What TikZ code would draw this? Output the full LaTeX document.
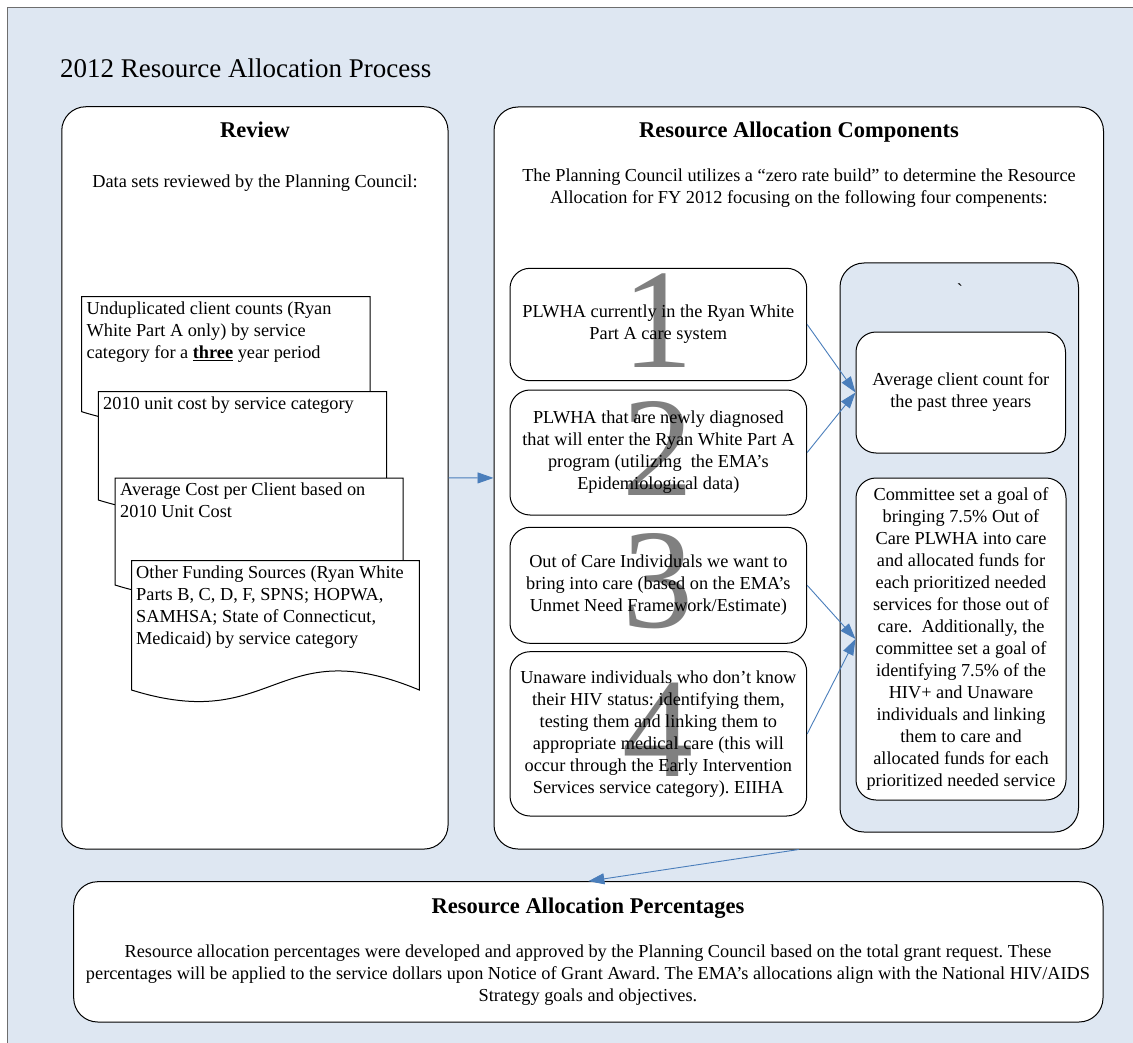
\documentclass[tikz,border=0pt]{standalone}
\usepackage{fontspec}
\setmainfont{Liberation Serif}
\usetikzlibrary{arrows.meta}
\frenchspacing

\definecolor{bgblue}{RGB}{222,231,242}
\definecolor{linkblue}{RGB}{74,126,187}
\definecolor{numgray}{RGB}{128,128,128}
\definecolor{framegray}{RGB}{110,110,110}

\newcommand{\docpage}[4]{%
	\filldraw[fill=white, draw=black, line width=1pt] (#1,#4) -- (#1,#2) -- (#3,#2) -- (#3,#4)
		.. controls ({(#1+#3)/2},#4-60) and ({(#1+#3)/2},#4+45) .. cycle;}

\begin{document}
\begin{tikzpicture}[x=1pt, y=-1pt,
	bodytext/.style={font=\fontsize{18.3}{22}\selectfont},
	headtext/.style={font=\fontsize{22.5}{26}\selectfont\bfseries},
	panel/.style={draw, line width=1pt, fill=white, rounded corners=24pt, inner sep=0pt},
	compbox/.style={panel, rounded corners=20pt, minimum width=296.7pt, bodytext, align=center},
	bignumber/.style={path picture={\node[draw=none, fill=none, inner sep=0pt, minimum width=0pt, minimum height=0pt,
		font=\fontsize{142}{142}\selectfont, text=numgray] at ([yshift=4pt]path picture bounding box.center) {#1};}},
	linkarrow/.style={draw=linkblue, line width=0.9pt, -{Triangle[length=16pt,width=11pt]}}]

	\useasboundingbox (0,0) rectangle (1133,1043);
	\clip (0,0) rectangle (1133,1043);
	\filldraw[fill=bgblue, draw=framegray, line width=1pt] (7,8) rectangle (1160,1070);

	\node[anchor=west, inner sep=0pt, font=\fontsize{27}{32}\selectfont] (title) at (60,68) {2012 Resource Allocation Process};

	\node[panel, minimum width=386.3pt, minimum height=742.3pt] (review) at (254.9,477.9) {};
	\node[headtext, anchor=base] (reviewhead) at (255,137.5) {Review};
	\node[bodytext, anchor=base] (reviewtext) at (255,188) {Data sets reviewed by the Planning Council:};

	\docpage{81.7}{296.7}{370}{411.7}
	\node[bodytext, anchor=north west, align=left, inner sep=0pt] (doc1) at (86.5,302) {Unduplicated client counts (Ryan\\White Part A only) by service\\category for a \textbf{\underline{three}} year period};
	\docpage{98.3}{391.7}{386.7}{500}
	\node[bodytext, anchor=north west, align=left, inner sep=0pt] (doc2) at (103,397) {2010 unit cost by service category};
	\docpage{115}{478}{403}{585}
	\node[bodytext, anchor=north west, align=left, inner sep=0pt] (doc3) at (120,483) {Average Cost per Client based on\\2010 Unit Cost};
	\docpage{131.5}{560.7}{419.3}{690}
	\node[bodytext, anchor=north west, align=left, inner sep=0pt] (doc4) at (136,566) {Other Funding Sources (Ryan White\\Parts B, C, D, F, SPNS; HOPWA,\\SAMHSA; State of Connecticut,\\Medicaid) by service category};

	\node[panel, minimum width=609.5pt, minimum height=742pt] (comp) at (798.75,478) {};
	\node[headtext, anchor=base] (comphead) at (799,137.5) {Resource Allocation Components};
	\node[bodytext, align=center] (comptext) at (799,188) {The Planning Council utilizes a ``zero rate build'' to determine the Resource\\Allocation for FY 2012 focusing on the following four compenents:};

	\node[compbox, minimum height=112.4pt, bignumber=1] (part1) at (658.35,324.5) {PLWHA currently in the Ryan White\\Part A care system};
	\node[compbox, minimum height=125pt, bignumber=2] (part2) at (658.35,452.5) {PLWHA that are newly diagnosed\\that will enter the Ryan White Part A\\program (utilizing~ the EMA's\\Epidemiological data)};
	\node[compbox, minimum height=116pt, bignumber=3] (part3) at (658.35,585.3) {Out of Care Individuals we want to\\bring into care (based on the EMA's\\Unmet Need Framework/Estimate)};
	\node[compbox, minimum height=164.3pt, bignumber=4] (part4) at (658.35,733.85) {Unaware individuals who don't know\\their HIV status: identifying them,\\testing them and linking them to\\appropriate medical care (this will\\occur through the Early Intervention\\Services service category). EIIHA};

	\node[panel, fill=bgblue, minimum width=238.5pt, minimum height=569pt] (result) at (959.25,547.5) {};
	\node[bodytext] (tick) at (960,290) {\textasciigrave};
	\node[panel, rounded corners=20pt, bodytext, align=center, minimum width=209.5pt, minimum height=121pt] (average) at (960.75,392.5) {Average client count for\\the past three years};
	\node[panel, rounded corners=20pt, bodytext, align=center, minimum width=210pt, minimum height=322pt] (goal) at (961,639) {Committee set a goal of\\bringing 7.5\% Out of\\Care PLWHA into care\\and allocated funds for\\each prioritized needed\\services for those out of\\care.~ Additionally, the\\committee set a goal of\\identifying 7.5\% of the\\HIV+ and Unaware\\individuals and linking\\them to care and\\allocated funds for each\\prioritized needed service};

	\node[panel, minimum width=1029.3pt, minimum height=140.3pt] (percent) at (588.35,951.85) {};
	\node[headtext] (percenthead) at (588,908) {Resource Allocation Percentages};
	\node[bodytext, align=center] (percenttext) at (588,975) {Resource allocation percentages were developed and approved by the Planning Council based on the total grant request. These\\percentages will be applied to the service dollars upon Notice of Grant Award. The EMA's allocations align with the National HIV/AIDS\\Strategy goals and objectives.};

	\draw[linkarrow] (review) -- (comp);
	\draw[linkarrow] (part1.east) -- (average.west);
	\draw[linkarrow] (part2.east) -- (average.west);
	\draw[linkarrow] (part3.east) -- (goal.west);
	\draw[linkarrow] (part4.east) -- (goal.west);
	\draw[linkarrow] (comp.south) -- (percent.north);

\end{tikzpicture}
\end{document}
